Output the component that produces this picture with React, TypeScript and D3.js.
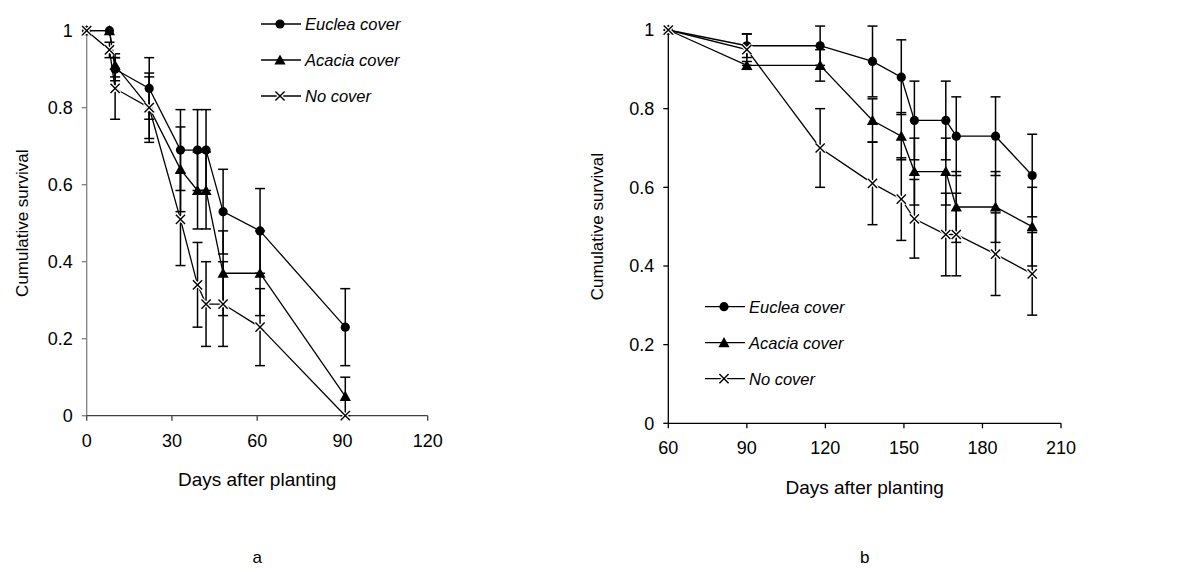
import React from "react";
import * as d3 from "d3";

// ---------- Panel a data ----------
const aDays = [0, 8, 10, 22, 33, 39, 42, 48, 61, 91];
const aEuclea = [1, 1, 0.9, 0.85, 0.69, 0.69, 0.69, 0.53, 0.48, 0.23];
const aEucleaErr = [0, 0, 0.03, 0.08, 0.105, 0.105, 0.105, 0.11, 0.11, 0.1];
const aAcacia = [1, 1, 0.91, 0.8, 0.64, 0.585, 0.585, 0.37, 0.37, 0.05];
const aAcaciaErr = [0, 0, 0.03, 0.08, 0.11, 0.1, 0.1, 0.11, 0.11, 0.05];
const aNone = [1, 0.95, 0.85, 0.8, 0.51, 0.34, 0.29, 0.29, 0.23, 0];
const aNoneErr = [0, 0.02, 0.08, 0.09, 0.12, 0.11, 0.11, 0.11, 0.1, 0];
const aXTicks = [0, 30, 60, 90, 120];

// ---------- Panel b data ----------
const bDays = [60, 90, 118, 138, 149, 154, 166, 170, 185, 199];
const bEuclea = [1, 0.96, 0.96, 0.92, 0.88, 0.77, 0.77, 0.73, 0.73, 0.63];
const bEucleaErr = [0, 0.03, 0.05, 0.09, 0.095, 0.1, 0.1, 0.1, 0.1, 0.105];
const bAcacia = [1, 0.91, 0.91, 0.77, 0.73, 0.64, 0.64, 0.55, 0.55, 0.5];
const bAcaciaErr = [0, 0.01, 0.04, 0.055, 0.06, 0.085, 0.085, 0.09, 0.09, 0.1];
const bNone = [1, 0.95, 0.7, 0.61, 0.57, 0.52, 0.48, 0.48, 0.43, 0.38];
const bNoneErr = [0, 0.04, 0.1, 0.105, 0.105, 0.1, 0.105, 0.105, 0.105, 0.105];
const bXTicks = [60, 90, 120, 150, 180, 210];

const yTicks = [0, 0.2, 0.4, 0.6, 0.8, 1];
const seriesNames = ["Euclea cover", "Acacia cover", "No cover"];
const markerTypes = ["circle", "triangle", "cross"];

const FONT = "'Liberation Sans', Arial, sans-serif";

type Series = { name: string; marker: string; xs: number[]; ys: number[]; err: number[] };

function Marker({ type, x, y }: { type: string; x: number; y: number }) {
  if (type === "circle") return <circle cx={x} cy={y} r={4.6} fill="#000" />;
  if (type === "triangle") {
    const s = 5.6;
    return <path d={`M${x},${y - s} L${x + s},${y + s * 0.8} L${x - s},${y + s * 0.8} Z`} fill="#000" />;
  }
  const h = 4.6;
  const d = `M${x - h},${y - h} L${x + h},${y + h} M${x - h},${y + h} L${x + h},${y - h}`;
  return (
    <g>
      <path d={d} stroke="#fff" strokeWidth={4} />
      <path d={d} stroke="#000" strokeWidth={1.4} />
    </g>
  );
}

function Panel(props: {
  x0: number; x1: number; yTop: number; yBot: number;
  xDomain: [number, number]; xTicks: number[];
  series: Series[];
  legendX: number; legendY: number;
  yAxisColor: string; xAxisColor: string;
  yTitleX: number; xTitleY: number; letter: string;
}) {
  const { x0, x1, yTop, yBot, xDomain, xTicks, series } = props;
  const xs = d3.scaleLinear().domain(xDomain).range([x0, x1]);
  const ys = d3.scaleLinear().domain([0, 1]).range([yBot, yTop]);
  const line = d3.line<[number, number]>().x((d) => xs(d[0])).y((d) => ys(d[1]));
  const cap = 5;
  const cx = (x0 + x1) / 2;
  const cy = (yTop + yBot) / 2;
  return (
    <g fontFamily={FONT}>
      {/* axes */}
      <line x1={x0} x2={x0} y1={yTop} y2={yBot} stroke={props.yAxisColor} strokeWidth={1.3} />
      {yTicks.map((t) => (
        <g key={"y" + t}>
          <line x1={x0 - 5} x2={x0} y1={ys(t)} y2={ys(t)} stroke={props.yAxisColor} strokeWidth={1.3} />
          <text x={x0 - 14} y={ys(t)} dy="0.36em" textAnchor="end" fontSize={18}>{String(t)}</text>
        </g>
      ))}
      <line x1={x0} x2={x1} y1={yBot} y2={yBot} stroke={props.xAxisColor} strokeWidth={1.3} />
      {xTicks.map((t) => (
        <g key={"x" + t}>
          <line x1={xs(t)} x2={xs(t)} y1={yBot} y2={yBot + 5} stroke={props.xAxisColor} strokeWidth={1.3} />
          <text x={xs(t)} y={yBot + 31} textAnchor="middle" fontSize={18}>{String(t)}</text>
        </g>
      ))}
      <text transform={`translate(${props.yTitleX},${cy}) rotate(-90)`} textAnchor="middle" fontSize={17}>Cumulative survival</text>
      <text x={cx} y={props.xTitleY} textAnchor="middle" fontSize={19}>Days after planting</text>
      <text x={cx} y={563} textAnchor="middle" fontSize={17}>{props.letter}</text>

      {/* error bars */}
      {series.map((s) =>
        s.xs.map((d, i) =>
          s.err[i] > 0 ? (
            <g key={s.name + "e" + i} stroke="#000" strokeWidth={1.5}>
              <line x1={xs(d)} x2={xs(d)} y1={ys(s.ys[i] + s.err[i])} y2={ys(s.ys[i] - s.err[i])} />
              <line x1={xs(d) - cap} x2={xs(d) + cap} y1={ys(s.ys[i] + s.err[i])} y2={ys(s.ys[i] + s.err[i])} />
              <line x1={xs(d) - cap} x2={xs(d) + cap} y1={ys(s.ys[i] - s.err[i])} y2={ys(s.ys[i] - s.err[i])} />
            </g>
          ) : null
        )
      )}
      {/* lines */}
      {series.map((s) => (
        <path key={s.name + "l"} d={line(s.xs.map((d, i) => [d, s.ys[i]]) as [number, number][]) || ""} fill="none" stroke="#000" strokeWidth={1.3} />
      ))}
      {/* markers */}
      {series.map((s) =>
        s.xs.map((d, i) => <Marker key={s.name + "m" + i} type={s.marker} x={xs(d)} y={ys(s.ys[i])} />)
      )}
      {/* legend */}
      {series.map((s, i) => {
        const ly = props.legendY + i * 36;
        return (
          <g key={s.name + "lg"}>
            <line x1={props.legendX} x2={props.legendX + 40} y1={ly} y2={ly} stroke="#000" strokeWidth={1.3} />
            <Marker type={s.marker} x={props.legendX + 19} y={ly} />
            <text x={props.legendX + 44} y={ly} dy="0.36em" fontSize={16.5} fontStyle="italic">{s.name}</text>
          </g>
        );
      })}
    </g>
  );
}

export default function App() {
  const aSeries: Series[] = [
    { name: seriesNames[0], marker: markerTypes[0], xs: aDays, ys: aEuclea, err: aEucleaErr },
    { name: seriesNames[1], marker: markerTypes[1], xs: aDays, ys: aAcacia, err: aAcaciaErr },
    { name: seriesNames[2], marker: markerTypes[2], xs: aDays, ys: aNone, err: aNoneErr },
  ];
  const bSeries: Series[] = [
    { name: seriesNames[0], marker: markerTypes[0], xs: bDays, ys: bEuclea, err: bEucleaErr },
    { name: seriesNames[1], marker: markerTypes[1], xs: bDays, ys: bAcacia, err: bAcaciaErr },
    { name: seriesNames[2], marker: markerTypes[2], xs: bDays, ys: bNone, err: bNoneErr },
  ];
  return (
    <svg width={1178} height={572} style={{ position: "absolute", left: 0, top: 0, background: "#fff" }}>
      <rect width={1178} height={572} fill="#fff" />
      <Panel x0={86.7} x1={427.7} yTop={30.7} yBot={415.7} xDomain={[0, 120]} xTicks={aXTicks}
        series={aSeries} legendX={261} legendY={24} yAxisColor="#808080" xAxisColor="#404040"
        yTitleX={28} xTitleY={486} letter="a" />
      <Panel x0={668.3} x1={1061} yTop={30} yBot={423.3} xDomain={[60, 210]} xTicks={bXTicks}
        series={bSeries} legendX={705} legendY={306.7} yAxisColor="#000" xAxisColor="#000"
        yTitleX={603} xTitleY={494} letter="b" />
    </svg>
  );
}
